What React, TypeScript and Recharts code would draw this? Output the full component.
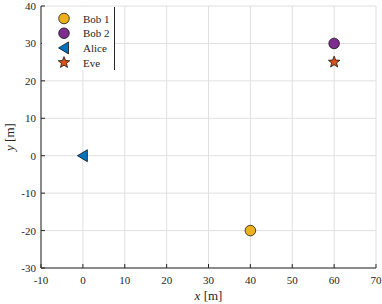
import React from 'react';
import { ScatterChart, Scatter, XAxis, YAxis, CartesianGrid, Legend } from 'recharts';

const xTicks = [-10, 0, 10, 20, 30, 40, 50, 60, 70];
const yTicks = [-30, -20, -10, 0, 10, 20, 30, 40];

const seriesNames = ['Bob 1', 'Bob 2', 'Alice', 'Eve'];
const seriesColors = ['#EDB120', '#7E2F8E', '#0072BD', '#D95319'];
const seriesShapes = ['circle', 'circle', 'triangle', 'star'];

const bob1Points = [{ x: 40, y: -20 }];
const bob2Points = [{ x: 60, y: 30 }];
const alicePoints = [{ x: 0, y: 0 }];
const evePoints = [{ x: 60, y: 25 }];

const seriesData = [bob1Points, bob2Points, alicePoints, evePoints];

const FONT = 'Liberation Serif, Times New Roman, serif';
const INK = '#262626';

function marker(kind: string, cx: number, cy: number, color: string) {
  if (kind === 'circle') {
    return <circle cx={cx} cy={cy} r={5.3} fill={color} stroke="#000" strokeWidth={0.7} />;
  }
  if (kind === 'triangle') {
    const pts = `${cx - 5.5},${cy} ${cx + 4.5},${cy - 6} ${cx + 4.5},${cy + 6}`;
    return <polygon points={pts} fill={color} stroke="#000" strokeWidth={0.7} />;
  }
  const pts: string[] = [];
  for (let i = 0; i < 10; i++) {
    const r = i % 2 === 0 ? 6 : 2.6;
    const a = -Math.PI / 2 + (i * Math.PI) / 5;
    pts.push(`${cx + r * Math.cos(a)},${cy + r * Math.sin(a)}`);
  }
  return <polygon points={pts.join(' ')} fill={color} stroke="#000" strokeWidth={0.7} />;
}

const BottomTick = (props: any) => {
  const { x, y, payload } = props;
  return (
    <g>
      <line x1={x} y1={y} x2={x} y2={y - 4} stroke={INK} strokeWidth={1} />
      <text x={x} y={y + 16} textAnchor="middle" fontFamily={FONT} fontSize={11} fill={INK}>
        {payload.value}
      </text>
    </g>
  );
};

const LeftTick = (props: any) => {
  const { x, y, payload } = props;
  return (
    <g>
      <line x1={x} y1={y} x2={x + 4} y2={y} stroke={INK} strokeWidth={1} />
      <text x={x - 5} y={y + 4} textAnchor="end" fontFamily={FONT} fontSize={11} fill={INK}>
        {payload.value}
      </text>
    </g>
  );
};

const TopTick = (props: any) => {
  const { x, y } = props;
  return <line x1={x} y1={y} x2={x} y2={y + 4} stroke={INK} strokeWidth={1} />;
};

const RightTick = (props: any) => {
  const { x, y } = props;
  return <line x1={x} y1={y} x2={x - 4} y2={y} stroke={INK} strokeWidth={1} />;
};

const XLabel = (props: any) => {
  const vb = props.viewBox || {};
  const cx = vb.x + vb.width / 2;
  return (
    <text x={cx} y={vb.y + vb.height - 4} textAnchor="middle" fontFamily={FONT} fontSize={13} fill={INK}>
      <tspan fontStyle="italic">x</tspan>
      <tspan> [m]</tspan>
    </text>
  );
};

const YLabel = (props: any) => {
  const vb = props.viewBox || {};
  const cy = vb.y + vb.height / 2;
  const lx = 14;
  return (
    <text
      x={lx}
      y={cy}
      transform={`rotate(-90, ${lx}, ${cy})`}
      textAnchor="middle"
      fontFamily={FONT}
      fontSize={13}
      fill={INK}
    >
      <tspan fontStyle="italic">y</tspan>
      <tspan> [m]</tspan>
    </text>
  );
};

const LegendBox = () => {
  const w = 73;
  const h = 63;
  return (
    <svg width={w} height={h} style={{ display: 'block' }}>
      <rect x={0} y={0} width={w} height={h} fill="#fff" />
      <line x1={w - 0.5} y1={0} x2={w - 0.5} y2={h} stroke={INK} strokeWidth={1} />
      {seriesNames.map((name, i) => {
        const cy = 11.5 + i * 14.7;
        return (
          <g key={name}>
            {marker(seriesShapes[i], 22, cy, seriesColors[i])}
            <text x={41} y={cy + 4} fontFamily={FONT} fontSize={11} fill={INK}>
              {name}
            </text>
          </g>
        );
      })}
    </svg>
  );
};

export default function App() {
  return (
    <div style={{ position: 'absolute', left: 0, top: 0 }}>
      <ScatterChart width={382} height={304} margin={{ top: 6, right: 6, bottom: 0, left: 0 }}>
        <CartesianGrid stroke="#e0e0e0" strokeWidth={1} />
        <XAxis
          type="number"
          dataKey="x"
          domain={[-10, 70]}
          ticks={xTicks}
          interval={0}
          allowDataOverflow
          height={36}
          tickSize={0}
          tickMargin={0}
          tick={<BottomTick />}
          axisLine={{ stroke: INK, strokeWidth: 1 }}
          tickLine={false}
          label={<XLabel />}
        />
        <XAxis
          xAxisId="top"
          orientation="top"
          type="number"
          domain={[-10, 70]}
          ticks={xTicks}
          interval={0}
          height={0}
          tickSize={0}
          tickMargin={0}
          tick={<TopTick />}
          axisLine={{ stroke: INK, strokeWidth: 1 }}
          tickLine={false}
        />
        <YAxis
          type="number"
          dataKey="y"
          domain={[-30, 40]}
          ticks={yTicks}
          interval={0}
          allowDataOverflow
          width={41}
          tickSize={0}
          tickMargin={0}
          tick={<LeftTick />}
          axisLine={{ stroke: INK, strokeWidth: 1 }}
          tickLine={false}
          label={<YLabel />}
        />
        <YAxis
          yAxisId="right"
          orientation="right"
          type="number"
          domain={[-30, 40]}
          ticks={yTicks}
          interval={0}
          width={0}
          tickSize={0}
          tickMargin={0}
          tick={<RightTick />}
          axisLine={{ stroke: INK, strokeWidth: 1 }}
          tickLine={false}
        />
        {seriesData.map((pts, i) => (
          <Scatter
            key={seriesNames[i]}
            name={seriesNames[i]}
            data={pts}
            fill={seriesColors[i]}
            isAnimationActive={false}
            shape={(p: any) => marker(seriesShapes[i], p.cx, p.cy, seriesColors[i])}
          />
        ))}
        <Legend
          layout="vertical"
          align="center"
          verticalAlign="middle"
          content={<LegendBox />}
          wrapperStyle={{ position: 'absolute', left: 42, top: 7, width: 73, height: 63 }}
        />
      </ScatterChart>
    </div>
  );
}
